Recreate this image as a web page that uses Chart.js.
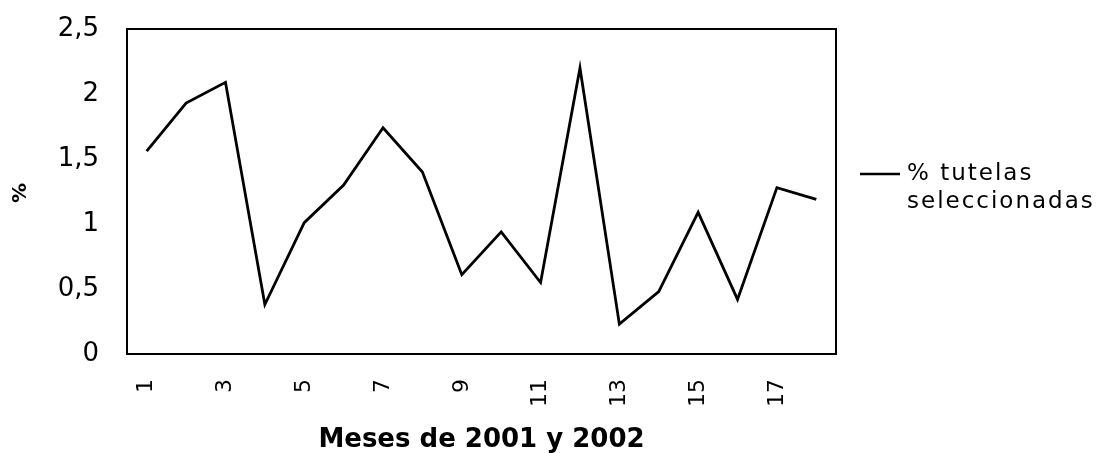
<!DOCTYPE html>
<html>
<head>
<meta charset="utf-8">
<script src="https://cdn.jsdelivr.net/npm/chart.js@4"></script>
<style>
  html, body { margin: 0; padding: 0; background: #fff; }
  #wrap { width: 1109px; height: 453px; position: relative; }
</style>
</head>
<body>
<div id="wrap"><canvas id="chart" width="1109" height="453"></canvas></div>
<script>
// months 1..18 (2001-2002)
const months = ['1','2','3','4','5','6','7','8','9','10','11','12','13','14','15','16','17','18'];
const tutelas = [1.56, 1.93, 2.09, 0.38, 1.01, 1.30, 1.74, 1.40, 0.61, 0.94, 0.55, 2.20, 0.23, 0.48, 1.09, 0.42, 1.28, 1.19];
const yTicks = [0, 0.5, 1, 1.5, 2, 2.5];
const seriesLabel = ['% tutelas', 'seleccionadas'];
const xTitle = 'Meses de 2001 y 2002';
const yTitle = '%';

const FONT = "'DejaVu Sans', sans-serif";

// frame, axis titles and the two-line legend
const decorations = {
    id: 'decorations',
    beforeDraw(chart) {
        const ctx = chart.ctx;
        ctx.save();
        ctx.fillStyle = '#fff';
        ctx.fillRect(0, 0, chart.width, chart.height);
        ctx.restore();
    },
    afterDraw(chart) {
        const ctx = chart.ctx;
        const a = chart.chartArea;
        ctx.save();
        ctx.strokeStyle = '#000';
        ctx.lineWidth = 2;
        ctx.strokeRect(a.left, a.top, a.right - a.left, a.bottom - a.top);

        // x title
        ctx.fillStyle = '#000';
        ctx.font = 'bold 26px ' + FONT;
        ctx.textAlign = 'center';
        ctx.textBaseline = 'middle';
        ctx.fillText(xTitle, (a.left + a.right) / 2, 440);

        // y title
        ctx.save();
        ctx.translate(21, 193);
        ctx.rotate(-Math.PI / 2);
        ctx.font = 'bold 20px ' + FONT;
        ctx.fillText(yTitle, 0, 0);
        ctx.restore();

        // legend
        const lx = a.right + 24;
        const ly = 174;
        ctx.lineWidth = 2.5;
        ctx.beginPath();
        ctx.moveTo(lx, ly);
        ctx.lineTo(lx + 40, ly);
        ctx.stroke();
        ctx.font = '23px ' + FONT;
        ctx.letterSpacing = '2px';
        ctx.textAlign = 'left';
        ctx.fillText(seriesLabel[0], lx + 47, ly);
        ctx.fillText(seriesLabel[1], lx + 47, ly + 28);
        ctx.restore();
    }
};

new Chart(document.getElementById('chart'), {
    type: 'line',
    data: {
        labels: months,
        datasets: [{
            label: seriesLabel.join(' '),
            data: tutelas,
            borderColor: '#000',
            borderWidth: 2.8,
            pointRadius: 0,
            tension: 0,
            fill: false
        }]
    },
    options: {
        responsive: false,
        animation: false,
        layout: { padding: { left: 0, top: 29, right: 273, bottom: 0 } },
        plugins: {
            legend: { display: false },
            tooltip: { enabled: false }
        },
        scales: {
            x: {
                type: 'category',
                offset: true,
                grid: { display: false },
                border: { display: false },
                ticks: {
                    autoSkip: false,
                    minRotation: 90,
                    maxRotation: 90,
                    padding: 17,
                    color: '#000',
                    font: { family: FONT, size: 22 },
                    callback: (v, i) => (i % 2 === 0 ? months[i] : '')
                },
                afterFit(scale) {
                    scale.height = 99;
                    scale.paddingLeft = 0;
                    scale.paddingRight = 0;
                }
            },
            y: {
                min: 0,
                max: 2.5,
                grid: { display: false },
                border: { display: false },
                afterBuildTicks(scale) {
                    scale.ticks = yTicks.map(v => ({ value: v }));
                },
                ticks: {
                    padding: 20,
                    color: '#000',
                    font: { family: FONT, size: 26 },
                    callback: v => String(v).replace('.', ',')
                },
                afterFit(scale) {
                    scale.width = 127;
                    scale.paddingTop = 0;
                    scale.paddingBottom = 0;
                }
            }
        }
    },
    plugins: [decorations]
});
</script>
</body>
</html>
